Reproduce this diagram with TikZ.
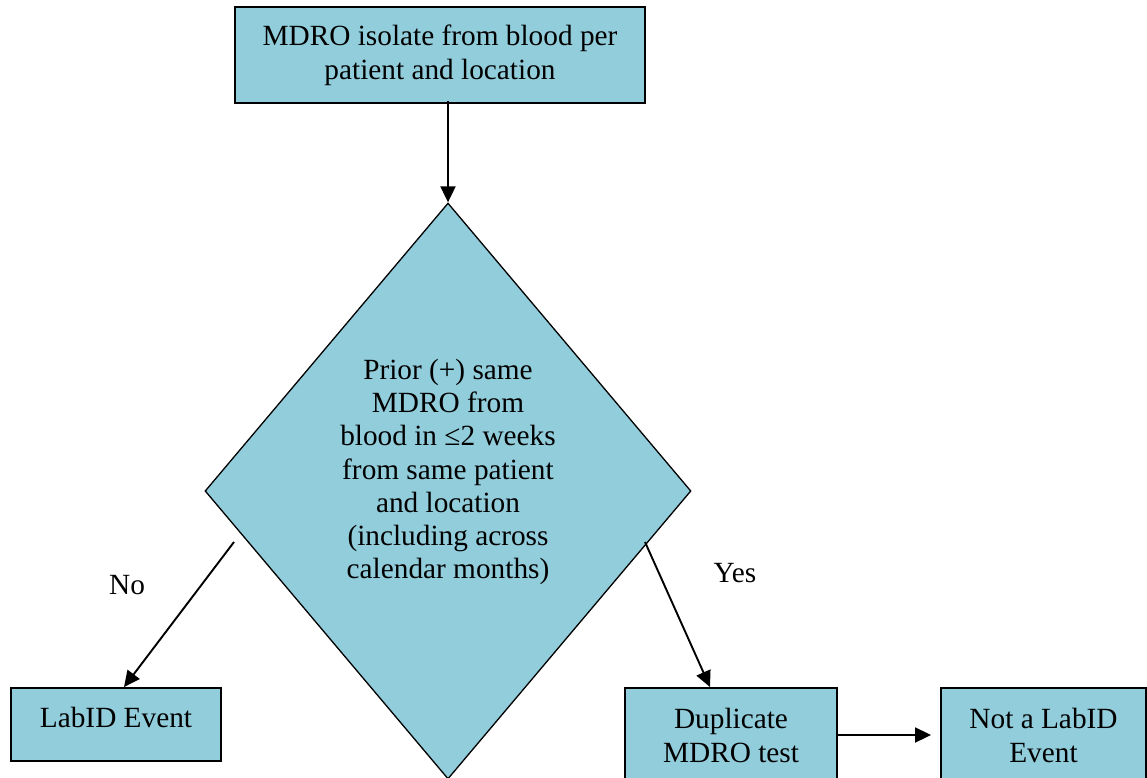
\documentclass[tikz,border=0pt]{standalone}
\usepackage{fontspec}
\setmainfont{LiberationSerif}[Extension=.ttf, UprightFont=*-Regular, BoldFont=*-Bold]
\usetikzlibrary{arrows.meta,shapes.geometric}
\definecolor{boxfill}{HTML}{92CDDC}
\tikzset{
  flowbox/.style={draw=black, line width=1.9pt, fill=boxfill, rectangle, inner sep=0pt,
    align=center, font=\fontsize{29.3}{34}\selectfont},
  decbox/.style={draw=black, line width=1.3pt, fill=boxfill, diamond, inner sep=0pt},
  lbl/.style={font=\fontsize{29.3}{33.3}\selectfont, align=center, inner sep=0pt},
  conn/.style={line width=1.9pt, -{Triangle[length=16pt,width=15pt]}},
}
\begin{document}
\begin{tikzpicture}[x=1pt,y=-1pt]
\useasboundingbox (0,0) rectangle (1147,778);
\clip (0,0) rectangle (1147,778);
\node[flowbox, minimum width=410pt, minimum height=96pt] (start) at (440,55)
  {MDRO isolate from blood per\\patient and location};
\node[decbox, minimum width=486pt, minimum height=576pt] (dec) at (448,491) {};
\node[lbl] (dectext) at (448,472) {Prior (+) same\\MDRO from\\blood in ≤2 weeks\\from same patient\\and location\\(including across\\calendar months)};
\node[flowbox, minimum width=210pt, minimum height=73pt] (labid) at (116,724.5) {\raisebox{14pt}{LabID Event}};
\node[flowbox, minimum width=212pt, minimum height=94pt] (dup) at (731,735) {Duplicate\\MDRO test};
\node[flowbox, minimum width=205pt, minimum height=94pt] (notev) at (1043.5,735) {Not a LabID\\Event};
\coordinate (noStart) at (234,542);
\coordinate (yesStart) at (645,542);
\node[lbl] (nolbl) at (127,585) {No};
\node[lbl] (yeslbl) at (735,573) {Yes};
\draw[conn] ([yshift=3pt]start.south -| dec.north) -- (dec.north);
\draw[conn] (noStart) -- ([xshift=8pt]labid.north);
\draw[conn] (yesStart) -- ([xshift=-21pt]dup.north);
\draw[conn] (dup.east) -- ([xshift=-9pt]notev.west);
\end{tikzpicture}
\end{document}
